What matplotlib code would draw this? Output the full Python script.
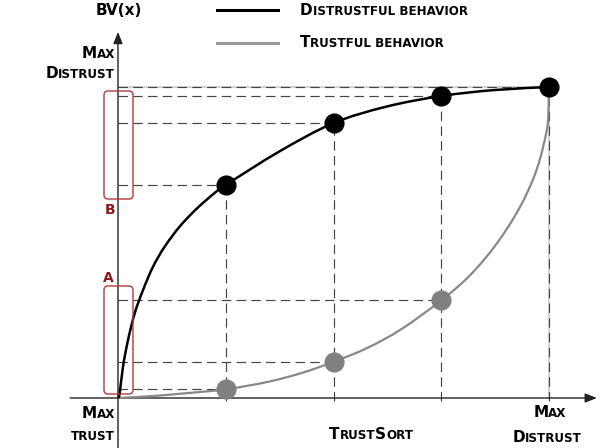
import matplotlib
matplotlib.use("Agg")
import matplotlib.pyplot as plt
import numpy as np
from matplotlib.patches import FancyBboxPatch, PathPatch
from matplotlib.path import Path
from matplotlib.transforms import Affine2D

# curve values, x and BV(x) on a 0-100 scale
black_x = [0, 0.39, 1.16, 2.32, 3.87, 5.8, 8.12, 10.8, 14.3, 18.2, 22.4, 25,
           37.6, 50, 62.3, 75, 87.1, 100]
black_y = [0, 1.5, 10.1, 18.6, 27.2, 34.7, 42.2, 48.6, 55.1, 60.8, 65.9, 68.5,
           79.4, 88.4, 93.7, 97.1, 99.0, 100]
gray_x = [0, 7.7, 15.5, 25, 34.8, 42.5, 50, 58.0, 65.7, 75, 81.7, 87.9, 93.3,
          97.1, 99.5, 99.9, 100]
gray_y = [0, 0.6, 1.5, 2.8, 5.2, 8.0, 11.6, 16.2, 22.1, 31.4, 39.5, 49.7, 61.5,
          73.3, 86.2, 94.0, 100]

# marked points
pts_x = [25, 50, 75, 100]
black_pts = [68.5, 88.4, 97.1, 100]
gray_pts = [2.8, 11.6, 31.4]

W, H = 605, 448
fig = plt.figure(figsize=(W / 100, H / 100), dpi=100)
ax = fig.add_axes([0, 0, 1, 1])
ax.set_xlim(-118 / 4.31, (W - 118) / 4.31)
ax.set_ylim(-(H - 398) / 3.11, 398 / 3.11)
ax.axis("off")

# pixel coords, origin top-left (for labels / annotations)
PX = Affine2D().scale(1, -1).translate(0, H)


def smooth_path(xs, ys):
    # catmull-rom through the read points, drawn as bezier segments
    p = np.column_stack([xs, ys])
    n = len(p)
    verts = [p[0]]
    codes = [Path.MOVETO]
    for i in range(n - 1):
        p0, p1 = p[max(i - 1, 0)], p[i]
        p2, p3 = p[i + 1], p[min(i + 2, n - 1)]
        verts += [p1 + (p2 - p0) / 6, p2 - (p3 - p1) / 6, p2]
        codes += [Path.CURVE4] * 3
    return Path(verts, codes)


dash_kw = dict(color="#444444", lw=0.85, dashes=(8, 4.5), zorder=2)

# guide lines
ax.plot([0, 100], [100, 100], color="#cccccc", lw=1.2, zorder=1)
ax.plot([100, 100], [0, 100], color="#cccccc", lw=1.2, zorder=1)
for x, y in zip(pts_x, black_pts):
    ax.plot([0, x], [y, y], **dash_kw)
    ax.plot([x, x], [-1, y], **dash_kw)
for x, y in zip(pts_x, gray_pts):
    ax.plot([0, x], [y, y], **dash_kw)

# axes with arrows
arr = dict(arrowstyle="-|>,head_length=0.5,head_width=0.2", color="#222222",
           lw=1, mutation_scale=14, shrinkA=0, shrinkB=0)
ax.annotate("", xy=(111.1, 0), xytext=(-11.1, 0), arrowprops=arr, zorder=3)
ax.annotate("", xy=(0, 117.7), xytext=(0, -16.1), arrowprops=arr, zorder=3)

# curves
ax.add_patch(PathPatch(smooth_path(gray_x, gray_y), fc="none", ec="#888888",
                       lw=1.6, zorder=4))
ax.add_patch(PathPatch(smooth_path(black_x, black_y), fc="none", ec="black",
                       lw=1.8, zorder=5))
ax.plot(pts_x[:3], gray_pts, "o", color="#808080", ms=13.5, zorder=6)
ax.plot(pts_x, black_pts, "o", color="black", ms=13.5, zorder=7)

# red brackets (display pixels)
red_edge = "#b23a3a"
for (x0, y0, x1, y1) in [(104, 91, 133, 199), (104, 286, 133, 394)]:
    box = FancyBboxPatch((x0, H - y1), x1 - x0, y1 - y0, transform=Affine2D(),
                         boxstyle="round,pad=0,rounding_size=4",
                         fc="none", ec=red_edge, lw=1.0, zorder=8)
    fig.add_artist(box)
fig.text(110.5, 210, "B", transform=PX, ha="center", va="center",
         fontsize=10, fontweight="bold", color="#8b1a1a")
fig.text(108, 278, "A", transform=PX, ha="center", va="center",
         fontsize=10, fontweight="bold", color="#8b1a1a")

# legend lines
fig.lines.append(plt.Line2D([217, 278], [10, 10], transform=PX, color="black", lw=2.2))
fig.lines.append(plt.Line2D([217, 278], [43, 43], transform=PX, color="#999999", lw=2.2))

# small caps labels built from pieces
BIG, SMALL = 11, 8.6
fig.canvas.draw()
rend = fig.canvas.get_renderer()


def caps(x, y, parts, ha="left"):
    texts = []
    for s, big in parts:
        t = fig.text(0, y, s, transform=PX, fontsize=BIG if big else SMALL,
                     fontweight="bold", va="baseline", ha="left")
        texts.append(t)
    widths = [t.get_window_extent(rend).width for t in texts]
    total = sum(widths)
    start = {"left": x, "right": x - total, "center": x - total / 2}[ha]
    for t, w in zip(texts, widths):
        t.set_x(start)
        start += w


caps(119, 15, [("BV(x)", True)], ha="center")
caps(300, 15, [("D", True), ("ISTRUSTFUL BEHAVIOR", False)])
caps(300, 47, [("T", True), ("RUSTFUL BEHAVIOR", False)])

caps(115, 58, [("M", True), ("AX", False)], ha="right")
caps(115, 78, [("D", True), ("ISTRUST", False)], ha="right")
caps(115, 418, [("M", True), ("AX", False)], ha="right")
caps(115, 440, [("TRUST", False)], ha="right")
caps(371, 439, [("T", True), ("RUST", False), ("S", True), ("ORT", False)], ha="center")
caps(550, 417, [("M", True), ("AX", False)], ha="center")
caps(547, 442, [("D", True), ("ISTRUST", False)], ha="center")

fig.savefig("out.png", dpi=100)
